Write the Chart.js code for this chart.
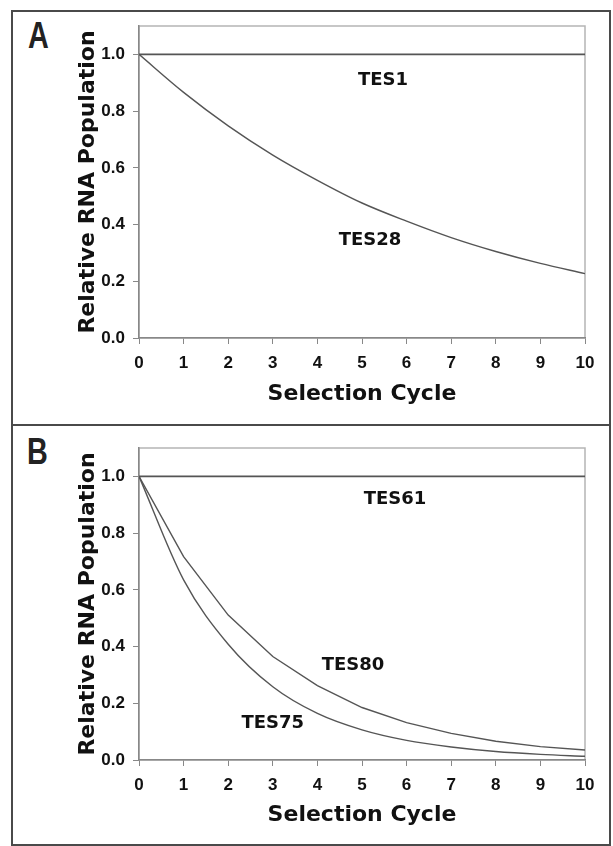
<!DOCTYPE html>
<html>
<head>
<meta charset="utf-8">
<script src="https://cdn.jsdelivr.net/npm/chart.js@4.4.1/dist/chart.umd.min.js"></script>
<style>
  html, body { margin:0; padding:0; background:#fff; width:613px; height:846px; overflow:hidden; }
  .box { position:absolute; box-sizing:border-box; border:2px solid #4a4a4a; }
  .cv { position:absolute; left:0; }
  .letter { position:absolute; font-family:"Liberation Sans Narrow","Liberation Sans",sans-serif; font-weight:bold;
            font-size:36px; color:#222; line-height:1; transform-origin:0 0; transform:scaleX(0.8); }
</style>
</head>
<body>
<div class="box" style="left:11px; top:10px; width:600px; height:416px;"></div>
<div class="box" style="left:11px; top:424px; width:600px; height:422px;"></div>
<div class="letter" style="left:28px; top:18px;">A</div>
<div class="letter" style="left:27px; top:434px;">B</div>
<div class="cv" style="top:0; width:613px; height:425px;"><canvas id="cA"></canvas></div>
<div class="cv" style="top:425px; width:613px; height:421px;"><canvas id="cB"></canvas></div>
<script>
// ---- data ----
const cycles = [0, 1, 2, 3, 4, 5, 6, 7, 8, 9, 10];
const tes1  = [1, 1, 1, 1, 1, 1, 1, 1, 1, 1, 1];
const tes28 = [1, 0.866, 0.748, 0.645, 0.556, 0.476, 0.412, 0.354, 0.305, 0.263, 0.227];
const tes61 = [1, 1, 1, 1, 1, 1, 1, 1, 1, 1, 1];
const tes80 = [1, 0.717, 0.511, 0.365, 0.262, 0.185, 0.132, 0.094, 0.066, 0.047, 0.035];
const tes75 = [1, 0.635, 0.408, 0.258, 0.164, 0.106, 0.069, 0.046, 0.030, 0.020, 0.013];
const yTickValues = [0, 0.2, 0.4, 0.6, 0.8, 1.0];
const xTickValues = [0, 1, 2, 3, 4, 5, 6, 7, 8, 9, 10];
const xTitle = "Selection Cycle";
const yTitle = "Relative RNA Population";
const labelsA = [ {text:"TES1", x:5.47, y:0.909}, {text:"TES28", x:5.18, y:0.345} ];
const labelsB = [ {text:"TES61", x:5.74, y:0.92}, {text:"TES80", x:4.8, y:0.335}, {text:"TES75", x:3.0, y:0.13} ];

const pts = (ys) => cycles.map((c, i) => ({x: c, y: ys[i]}));

const framePlugin = {
  id: 'frame',
  beforeDraw(chart) {
    const {ctx, chartArea: a} = chart;
    ctx.save();
    ctx.strokeStyle = '#b5b5b5';
    ctx.lineWidth = 1.5;
    ctx.strokeRect(a.left, a.top, a.right - a.left, a.bottom - a.top);
    ctx.restore();
  }
};
const textPlugin = {
  id: 'seriesText',
  afterDatasetsDraw(chart, args, opts) {
    const {ctx} = chart;
    const xs = chart.scales.x, ys = chart.scales.y;
    ctx.save();
    ctx.font = 'bold 18px "DejaVu Sans", sans-serif';
    ctx.fillStyle = '#111';
    ctx.textAlign = 'center';
    ctx.textBaseline = 'middle';
    (opts.items || []).forEach(l => ctx.fillText(l.text, xs.getPixelForValue(l.x), ys.getPixelForValue(l.y)));
    ctx.restore();
  }
};

function makeChart(id, series, labels, geo) {
  const tickFont = {family: "'Liberation Sans', Arial, sans-serif", size: 17, weight: 'bold'};
  const titleFont = {family: "'DejaVu Sans', sans-serif", size: 22, weight: 'bold', lineHeight: 1.2};
  new Chart(document.getElementById(id), {
    type: 'line',
    data: {
      datasets: series.map(s => ({
        data: pts(s.values),
        borderColor: '#555',
        borderWidth: s.w,
        pointRadius: 0,
        tension: s.smooth ? 0.4 : 0,
        cubicInterpolationMode: s.smooth ? 'monotone' : 'default',
        fill: false
      }))
    },
    options: {
      responsive: true,
      maintainAspectRatio: false,
      animation: false,
      events: [],
      layout: { padding: { left: 0, right: 28, top: geo.top, bottom: 0 } },
      plugins: { legend: {display: false}, tooltip: {enabled: false}, seriesText: { items: labels } },
      scales: {
        x: {
          type: 'linear', min: 0, max: 10,
          afterBuildTicks: (s) => { s.ticks = xTickValues.map(v => ({value: v})); },
          afterFit: (s) => { s.height = geo.xh; },
          grid: { drawOnChartArea: false, drawTicks: true, tickLength: 6, color: '#888', lineWidth: 1 },
          border: { display: true, color: '#888', width: 1.5 },
          ticks: { font: tickFont, color: '#111', padding: 9, maxRotation: 0, autoSkip: false },
          title: { display: true, text: xTitle, font: titleFont, color: '#111', padding: { top: 0, bottom: 31 - 13.2 } }
        },
        y: {
          type: 'linear', min: 0, max: 1.1,
          afterBuildTicks: (s) => { s.ticks = yTickValues.map(v => ({value: v})); },
          afterFit: (s) => { s.width = 139; },
          grid: { drawOnChartArea: false, drawTicks: true, tickLength: 6, color: '#888', lineWidth: 1 },
          border: { display: true, color: '#888', width: 1.5 },
          ticks: { font: tickFont, color: '#111', padding: 8, callback: (v) => Number(v).toFixed(1) },
          title: { display: true, text: yTitle, font: titleFont, color: '#111', padding: { top: 88 - 13.2, bottom: 0 } }
        }
      }
    },
    plugins: [framePlugin, textPlugin]
  });
}

makeChart('cA', [
  {values: tes1, w: 1.6, smooth: false},
  {values: tes28, w: 1.4, smooth: true}
], labelsA, {top: 26, xh: 87});

makeChart('cB', [
  {values: tes61, w: 1.6, smooth: false},
  {values: tes80, w: 1.4, smooth: false},
  {values: tes75, w: 1.4, smooth: true}
], labelsB, {top: 23, xh: 86});
</script>
</body>
</html>
